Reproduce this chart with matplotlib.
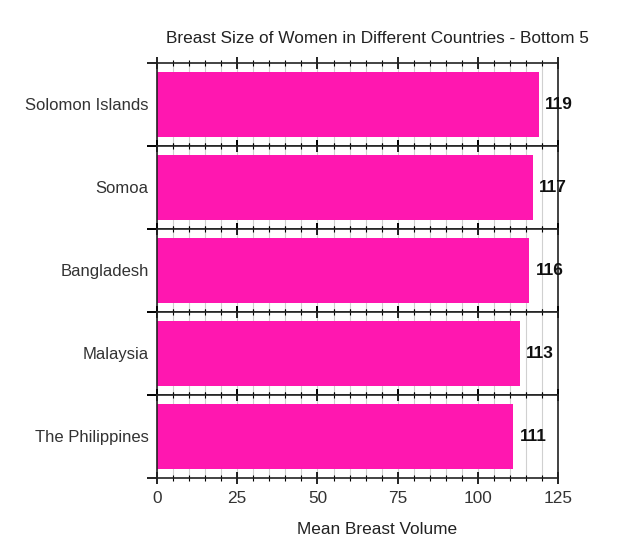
import matplotlib
matplotlib.use("Agg")
import matplotlib.pyplot as plt
from matplotlib.ticker import MultipleLocator

countries = ["Solomon Islands", "Somoa", "Bangladesh", "Malaysia", "The Philippines"]
values = [119, 117, 116, 113, 111]
xticks = [0, 25, 50, 75, 100, 125]

plt.rcParams['font.family'] = ['Liberation Sans', 'DejaVu Sans']
bar_color = "#ff17b0"
fs = 12.4

fig = plt.figure(figsize=(6.23, 5.43), dpi=100)
left, right, top, bottom = 0.252, 0.896, 0.884, 0.12
n = len(countries)
h = (top - bottom) / n
axes = []
for i, (name, v) in enumerate(zip(countries, values)):
    ax = fig.add_axes([left, top - (i + 1) * h, right - left, h])
    ax.set_xlim(0, 125)
    ax.set_ylim(-0.5, 0.5)
    ax.xaxis.set_major_locator(MultipleLocator(25))
    ax.xaxis.set_minor_locator(MultipleLocator(5))
    ax.grid(True, axis='x', which='both', color='#d0d0d0', linewidth=0.8)
    ax.set_axisbelow(True)
    ax.barh([0], [v], height=0.78, color=bar_color, edgecolor='none', zorder=2)
    ax.text(v + 2.0, 0, str(v), va='center', ha='left', fontsize=fs,
            fontweight='bold', color='#111111', zorder=3)
    ax.tick_params(axis='x', which='major', direction='inout', length=9, width=1.2,
                   top=True, bottom=True, labelbottom=(i == n - 1), labelsize=fs,
                   labelcolor='#333333', pad=5)
    ax.tick_params(axis='x', which='minor', direction='inout', length=5, width=0.8,
                   top=True, bottom=True)
    ax.set_yticks([-0.5, 0.5])
    ax.set_yticklabels(['', ''])
    ax.tick_params(axis='y', which='major', direction='out', length=7, width=1.2)
    ax.set_yticks([0], minor=True)
    ax.set_yticklabels([name], minor=True)
    ax.tick_params(axis='y', which='minor', length=0, labelsize=12.0, pad=6,
                   labelcolor='#333333')
    for s in ax.spines.values():
        s.set_linewidth(1.2)
        s.set_color('#222222')
    if i == n - 1:
        ax.set_xticks(xticks)
    axes.append(ax)

fig.text(0.606, 0.930, "Breast Size of Women in Different Countries - Bottom 5",
         ha='center', va='center', fontsize=fs, color='#222222')
fig.text(0.605, 0.025, "Mean Breast Volume", ha='center', va='center',
         fontsize=fs, color='#222222')

fig.savefig("out.png", dpi=100)
